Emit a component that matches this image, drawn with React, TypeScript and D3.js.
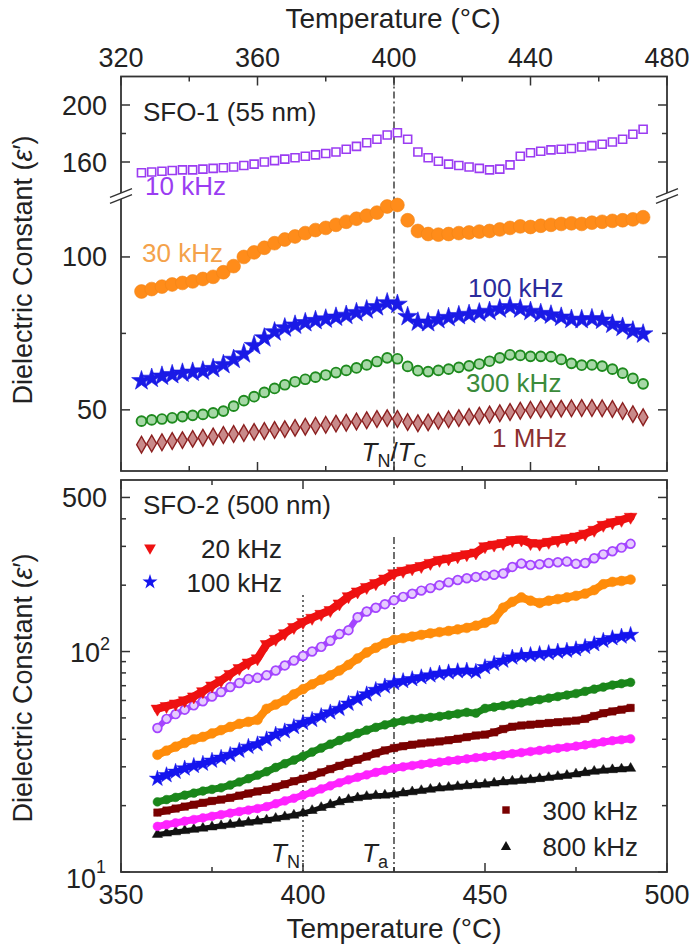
import React from "react";
import * as d3 from "d3";

const FONT = "'Liberation Sans', Arial, Helvetica, sans-serif";

// ---------- Top panel (SFO-1, 55 nm) ----------
const topTemps = [326, 329, 332, 335, 338, 341, 344, 347, 350, 353, 356, 359, 362, 365, 368, 371, 374, 377, 380, 383, 386, 389, 392, 395, 398, 401, 404, 407, 410, 413, 416, 419, 422, 425, 428, 431, 434, 437, 440, 443, 446, 449, 452, 455, 458, 461, 464, 467, 470, 473];
const eps10k = [152.5, 153, 153.5, 154, 154.5, 154.5, 155, 155.5, 156, 156.5, 157.5, 158.5, 160, 161, 162, 163, 164, 165, 166, 167, 169, 171, 173.5, 176, 179, 180.5, 176, 167, 163, 160.5, 158.5, 157.5, 156.5, 155.5, 154.5, 155, 158, 164, 166.5, 167.5, 168.5, 169, 169.5, 170.5, 171.5, 172.5, 174, 176, 179.5, 183];
const eps30k = [88.7, 89.5, 90.3, 91, 91.5, 92, 92.8, 93.5, 95, 97, 100, 101.5, 103, 104.5, 105.7, 106.7, 107.8, 108.8, 109.5, 110.5, 111.5, 112.5, 113.5, 114.5, 116.5, 117, 112, 108.5, 107.5, 107.3, 107.5, 107.8, 108, 108.3, 108.5, 109, 109.5, 110, 109.8, 110.2, 110.5, 110.8, 111, 110.8, 111.2, 111.5, 111.8, 112, 112.3, 113];
const eps100k = [59.5, 60.3, 61, 61.5, 62, 62.3, 62.7, 63.5, 64.8, 66.5, 68.3, 71, 73.5, 75.5, 76.8, 77.7, 78.5, 79.2, 79.7, 80.3, 80.9, 81.8, 82.7, 83.7, 85, 84.5, 80.5, 78.7, 78.5, 79.5, 80.2, 80.8, 81.2, 81.7, 82.2, 83, 83.7, 83, 82.2, 81.5, 81, 80.3, 79.6, 79.5, 79.8, 79.3, 78, 77, 75.8, 74.8];
const eps300k = [46.3, 46.7, 47, 47.4, 47.8, 48.2, 48.5, 49, 49.6, 51.2, 53, 54.3, 55.7, 57, 58.2, 59.2, 60, 60.7, 61.4, 62.2, 62.9, 63.7, 64.7, 65.8, 67, 66.7, 64.2, 62.8, 62.5, 62.9, 63.3, 63.9, 64.4, 65, 65.9, 67, 68, 67.8, 67.5, 67.5, 67.4, 66.5, 65.2, 64.6, 64.7, 64.3, 63.3, 62, 60.3, 58.5];
const eps1M = [38.6, 39, 39.4, 39.8, 40.1, 40.5, 40.9, 41.3, 41.8, 42.1, 42.4, 42.8, 43.1, 43.4, 43.7, 44.1, 44.5, 44.8, 45.1, 45.5, 45.8, 46.2, 46.6, 47, 47.3, 47, 46, 45.6, 45.9, 46.4, 46.9, 47.3, 47.7, 48.1, 48.5, 48.9, 49.3, 49.7, 50, 50.2, 50.3, 50.4, 50.5, 50.6, 50.6, 50.5, 50.3, 49.6, 48.6, 47.6];

const topXTicks = [320, 340, 360, 380, 400, 420, 440, 460, 480];
const topXLabels = [320, 360, 400, 440, 480];
const topUpTicks = [200, 180, 160];
const topUpLabels = [200, 160];
const topLoTicks = [100, 75, 50];
const topLoLabels = [100, 50];

// ---------- Bottom panel (SFO-2, 500 nm) ----------
const botTemps = [360, 362.5, 365, 367.5, 370, 372.5, 375, 377.5, 380, 382.5, 385, 387.5, 390, 392.5, 395, 397.5, 400, 402.5, 405, 407.5, 410, 412.5, 415, 417.5, 420, 422.5, 425, 427.5, 430, 432.5, 435, 437.5, 440, 442.5, 445, 447.5, 450, 452.5, 455, 457.5, 460, 462.5, 465, 467.5, 470, 472.5, 475, 477.5, 480, 482.5, 485, 487.5, 490];
const b20k = [55, 56.5, 58, 60, 62.5, 66, 70, 74, 79, 84, 89, 93, 108, 114, 121, 129, 136, 142, 148, 154, 165, 178, 187, 196, 204, 214, 226, 232, 238, 244, 252, 260, 264, 270, 276, 281, 300, 305, 310, 320, 322, 310, 308, 314, 320, 326, 332, 342, 356, 375, 385, 395, 408];
const b30k = [45, 49.5, 52, 54.5, 57, 59.5, 62.5, 65.5, 69, 72, 75, 76, 78, 82, 86.5, 91, 95.5, 100, 105, 112, 120, 125, 143, 152, 158, 164, 171, 177, 183, 189, 194, 200, 206, 211, 215, 218, 221, 223, 226, 242, 251, 247, 249, 252, 254, 256, 250, 252, 265, 276, 285, 296, 308];
const b50k = [34, 35.5, 37, 38.5, 40, 41, 42.5, 44, 45.5, 47, 48, 49, 55, 57.5, 60, 64, 67.5, 71, 74.5, 78, 82, 87, 93, 99, 104, 109, 113, 115, 117, 119, 121, 122.5, 124, 126, 128, 131, 135, 140, 158, 168, 176, 170, 166, 170, 173, 176, 179, 183, 190, 202, 207, 209, 212];
const b100k = [26.5, 27.5, 28.5, 29.5, 30.3, 31, 32, 33, 34, 35.5, 37, 38, 40, 42, 43.5, 45.5, 47.5, 49, 51, 53, 55, 58, 61, 64, 67, 69.5, 72, 73.5, 75, 76.5, 78, 79.5, 80.5, 81.5, 82, 81, 85, 88, 91, 94, 96, 96.5, 97.5, 98.5, 100, 101, 102.5, 105, 108, 112, 115, 117, 119];
const b200k = [20.8, 21.3, 21.8, 22.3, 22.8, 23.3, 23.7, 24.1, 24.8, 25.6, 26.5, 27.5, 28.5, 29.8, 31, 32.2, 33.5, 35, 36.5, 38, 39.5, 41, 42.5, 44, 45.3, 46.5, 47.6, 48.5, 49.2, 49.8, 50.3, 50.8, 51.5, 52.2, 53, 52.5, 55.2, 56, 56.8, 57.5, 58.5, 59.5, 60.5, 61.5, 62.5, 63.5, 64.5, 66, 67.5, 69, 70.5, 71.5, 72.5];
const b300k = [18.6, 19, 19.4, 19.8, 20.2, 20.6, 21, 21.3, 21.7, 22.2, 22.7, 23.2, 23.6, 24.3, 25, 25.8, 26.5, 27.3, 28.3, 29.3, 30.3, 31.3, 32.3, 33.4, 34.5, 35.6, 36.5, 37.2, 37.8, 38.3, 38.7, 39.1, 39.6, 40.2, 40.9, 41.6, 42, 43, 44.5, 45.6, 46.2, 46.6, 47, 47.4, 47.8, 48.2, 48.6, 49.5, 51, 52.5, 53.5, 54.5, 55.5];
const b500k = [16.1, 16.4, 16.7, 17, 17.3, 17.6, 17.9, 18.2, 18.5, 18.8, 19.1, 19.4, 19.8, 20.4, 21, 21.6, 22.3, 23, 23.8, 24.6, 25.4, 26.2, 26.9, 27.6, 28.3, 28.9, 29.5, 30, 30.4, 30.8, 31.2, 31.5, 31.9, 32.2, 32.6, 33, 33.3, 33.6, 34, 34.4, 34.8, 35.2, 35.6, 36, 36.4, 36.8, 37.2, 37.7, 38.3, 38.9, 39.4, 39.8, 40.2];
const b800k = [14.8, 15, 15.2, 15.4, 15.6, 15.8, 16, 16.2, 16.4, 16.6, 16.8, 17, 17.2, 17.5, 17.8, 18.1, 18.5, 19, 19.6, 20.2, 20.8, 21.3, 21.7, 22, 22.2, 22.3, 22.5, 22.8, 23.1, 23.4, 23.7, 24, 24.2, 24.4, 24.6, 24.8, 25, 25.3, 25.6, 25.8, 26, 26.2, 26.5, 26.8, 27.1, 27.4, 27.8, 28.2, 28.6, 28.9, 29.1, 29.3, 29.5];

const botXTicks = [350, 375, 400, 425, 450, 475, 500];
const botXLabels = [350, 400, 450, 500];
const botYMinor = [20, 30, 40, 50, 60, 70, 80, 90, 200, 300, 400];
const botYMajor = [10, 100, 500];

// ---------- scales ----------
const xTop = d3.scaleLinear().domain([320, 480]).range([121, 667]);
const yUp = d3.scaleLinear().domain([140, 220]).range([190.5, 76.5]);
const yLo = d3.scaleLinear().domain([30, 120]).range([471, 195.8]);
const xBot = d3.scaleLinear().domain([350, 500]).range([121, 667]);
const yBot = d3.scaleLog().domain([10, 600]).range([872, 480]);

const L = 121, R = 667;
const T1 = 76.5, B1 = 471, T2 = 480, B2 = 872;
const AX = "#333";
const TXT = "#222";

const sym = (type: any, size: number) => d3.symbol().type(type).size(size)() as string;

type TopS = { vals: number[]; up?: boolean; path: string; fill: string; stroke: string; sw: number };
const topSeries: TopS[] = [
  { vals: eps1M, path: sym(d3.symbolDiamond, 80), fill: "#c98a8a", stroke: "#8b1f1f", sw: 1.4 },
  { vals: eps300k, path: sym(d3.symbolCircle, 75), fill: "#a6d8a6", stroke: "#1e8a1e", sw: 1.9 },
  { vals: eps100k, path: sym(d3.symbolStar, 120), fill: "#1a1ae6", stroke: "#1a1ae6", sw: 0.6 },
  { vals: eps30k, path: sym(d3.symbolCircle, 150), fill: "#ff8c1a", stroke: "#f28418", sw: 0.6 },
  { vals: eps10k, up: true, path: sym(d3.symbolSquare, 64), fill: "#ffffff", stroke: "#9b3cf2", sw: 1.6 },
];

type BotS = { vals: number[]; color: string; lw: number; path: string; fill: string; stroke: string; sw: number; rot?: number };
const botSeries: BotS[] = [
  { vals: b800k, color: "#111", lw: 5, path: sym(d3.symbolTriangle, 45), fill: "#111", stroke: "#111", sw: 0.5 },
  { vals: b500k, color: "#ff22ff", lw: 7, path: sym(d3.symbolCircle, 60), fill: "#ff22ff", stroke: "#ff22ff", sw: 0.5 },
  { vals: b300k, color: "#7a0000", lw: 7, path: sym(d3.symbolSquare, 55), fill: "#7a0000", stroke: "#7a0000", sw: 0.5 },
  { vals: b200k, color: "#1a861a", lw: 7, path: sym(d3.symbolCircle, 60), fill: "#1a861a", stroke: "#1a861a", sw: 0.5 },
  { vals: b100k, color: "#1414ee", lw: 6, path: sym(d3.symbolStar, 80), fill: "#1414ee", stroke: "#1414ee", sw: 0.5 },
  { vals: b50k, color: "#ff8c0a", lw: 8, path: sym(d3.symbolCircle, 75), fill: "#ff8c0a", stroke: "#ff8c0a", sw: 0.5 },
  { vals: b30k, color: "#a445ff", lw: 6, path: sym(d3.symbolCircle, 60), fill: "#e6ccff", stroke: "#a445ff", sw: 1.7 },
  { vals: b20k, color: "#ee1111", lw: 8, path: sym(d3.symbolTriangle, 70), fill: "#ee1111", stroke: "#ee1111", sw: 0.5, rot: 180 },
];

const Eps = () => (
  <>
    {"Dielectric Constant ("}
    <tspan fontStyle="italic">ε</tspan>
    {"′)"}
  </>
);

export default function App() {
  const botLine = (vals: number[]) =>
    d3.line<number>().x((_, i) => xBot(botTemps[i])).y((v) => yBot(v)).curve(d3.curveLinear)(vals) as string;

  const fs = 27;

  return (
    <svg width={696} height={949} viewBox="0 0 696 949" style={{ display: "block", position: "absolute", left: 0, top: 0, background: "#fff" }} fontFamily={FONT}>
      <rect x={0} y={0} width={696} height={949} fill="#fff" />

      {/* ===== TOP PANEL ===== */}
      <text x={393} y={28} textAnchor="middle" fontSize={28} fill={TXT}>Temperature (°C)</text>
      {topXLabels.map((t) => (
        <text key={"tl" + t} x={xTop(t)} y={67} textAnchor="middle" fontSize={fs} fill={TXT}>{t}</text>
      ))}
      <line x1={xTop(400)} x2={xTop(400)} y1={T1} y2={B1} stroke="#222" strokeWidth={1.3} strokeDasharray="7,3,2,3" />

      {topSeries.map((s, si) => (
        <g key={"ts" + si}>
          {s.vals.map((v, i) => (
            <path key={i} d={s.path} transform={`translate(${xTop(topTemps[i])},${s.up ? yUp(v) : yLo(v)})`} fill={s.fill} stroke={s.stroke} strokeWidth={s.sw} />
          ))}
        </g>
      ))}

      <rect x={L} y={T1} width={R - L} height={B1 - T1} fill="none" stroke={AX} strokeWidth={1.8} />
      {topXTicks.map((t) => {
        const len = topXLabels.includes(t) ? 9 : 5;
        const x = xTop(t);
        return (
          <g key={"tt" + t}>
            <line x1={x} x2={x} y1={T1} y2={T1 + len} stroke={AX} strokeWidth={1.5} />
            <line x1={x} x2={x} y1={B1} y2={B1 - len} stroke={AX} strokeWidth={1.5} />
          </g>
        );
      })}
      {topUpTicks.map((v) => {
        const len = topUpLabels.includes(v) ? 9 : 5;
        const y = yUp(v);
        return (
          <g key={"tu" + v}>
            <line x1={L} x2={L + len} y1={y} y2={y} stroke={AX} strokeWidth={1.5} />
            <line x1={R} x2={R - len} y1={y} y2={y} stroke={AX} strokeWidth={1.5} />
          </g>
        );
      })}
      {topLoTicks.map((v) => {
        const len = topLoLabels.includes(v) ? 9 : 5;
        const y = yLo(v);
        return (
          <g key={"tlo" + v}>
            <line x1={L} x2={L + len} y1={y} y2={y} stroke={AX} strokeWidth={1.5} />
            <line x1={R} x2={R - len} y1={y} y2={y} stroke={AX} strokeWidth={1.5} />
          </g>
        );
      })}
      {topUpLabels.map((v) => (
        <text key={"tul" + v} x={107} y={yUp(v) + 9.5} textAnchor="end" fontSize={fs} fill={TXT}>{v}</text>
      ))}
      {topLoLabels.map((v) => (
        <text key={"tll" + v} x={107} y={yLo(v) + 9.5} textAnchor="end" fontSize={fs} fill={TXT}>{v}</text>
      ))}
      {[L, R].map((x) => (
        <g key={"br" + x}>
          <polygon points={`${x - 10},${197} ${x + 10},${189} ${x + 10},${195} ${x - 10},${203}`} fill="#fff" />
          <line x1={x - 11} y1={197.4} x2={x + 11} y2={188.6} stroke={AX} strokeWidth={1.5} />
          <line x1={x - 11} y1={203.4} x2={x + 11} y2={194.6} stroke={AX} strokeWidth={1.5} />
        </g>
      ))}

      <text x={32} y={270} transform="rotate(-90 32 270)" textAnchor="middle" fontSize={fs} fill={TXT}><Eps /></text>
      <text x={143} y={121} fontSize={26} fill={TXT}>SFO-1 (55 nm)</text>
      <text x={145} y={195} fontSize={26} fill="#9b3cf2">10 kHz</text>
      <text x={142} y={262} fontSize={26} fill="#f4a24a">30 kHz</text>
      <text x={468} y={297} fontSize={26} fill="#2b2b9c">100 kHz</text>
      <text x={466} y={392} fontSize={26} fill="#3b8b3b">300 kHz</text>
      <text x={492} y={447} fontSize={26} fill="#8b3030">1 MHz</text>
      <text x={xTop(400)} y={461} textAnchor="middle" fontSize={26} fill={TXT}>
        <tspan fontStyle="italic">T</tspan>
        <tspan fontSize={18} dy={6}>N</tspan>
        <tspan dy={-6}>/</tspan>
        <tspan fontStyle="italic">T</tspan>
        <tspan fontSize={18} dy={6}>C</tspan>
      </text>

      {/* ===== BOTTOM PANEL ===== */}
      <line x1={xBot(400)} x2={xBot(400)} y1={595} y2={B2} stroke="#222" strokeWidth={1.3} strokeDasharray="2,3" />
      <line x1={xBot(425)} x2={xBot(425)} y1={537} y2={B2} stroke="#222" strokeWidth={1.3} strokeDasharray="7,3,2,3" />

      {botSeries.map((s, si) => (
        <g key={"bs" + si}>
          <path d={botLine(s.vals)} fill="none" stroke={s.color} strokeWidth={s.lw} strokeLinejoin="round" strokeLinecap="round" />
          {s.vals.map((v, i) => (
            <path key={i} d={s.path} transform={`translate(${xBot(botTemps[i])},${yBot(v)}) rotate(${s.rot || 0})`} fill={s.fill} stroke={s.stroke} strokeWidth={s.sw} />
          ))}
        </g>
      ))}

      <rect x={L} y={T2} width={R - L} height={B2 - T2} fill="none" stroke={AX} strokeWidth={1.8} />
      {botXTicks.map((t) => {
        const len = botXLabels.includes(t) ? 9 : 5;
        const x = xBot(t);
        return (
          <g key={"bt" + t}>
            <line x1={x} x2={x} y1={T2} y2={T2 + len} stroke={AX} strokeWidth={1.5} />
            <line x1={x} x2={x} y1={B2} y2={B2 - len} stroke={AX} strokeWidth={1.5} />
          </g>
        );
      })}
      {botYMajor.map((v) => (
        <g key={"bym" + v}>
          <line x1={L} x2={L + 9} y1={yBot(v)} y2={yBot(v)} stroke={AX} strokeWidth={1.5} />
          <line x1={R} x2={R - 9} y1={yBot(v)} y2={yBot(v)} stroke={AX} strokeWidth={1.5} />
        </g>
      ))}
      {botYMinor.map((v) => (
        <g key={"byn" + v}>
          <line x1={L} x2={L + 5} y1={yBot(v)} y2={yBot(v)} stroke={AX} strokeWidth={1.5} />
          <line x1={R} x2={R - 5} y1={yBot(v)} y2={yBot(v)} stroke={AX} strokeWidth={1.5} />
        </g>
      ))}
      {botXLabels.map((t) => (
        <text key={"bxl" + t} x={xBot(t)} y={904} textAnchor="middle" fontSize={fs} fill={TXT}>{t}</text>
      ))}
      <text x={107} y={yBot(500) + 9.5} textAnchor="end" fontSize={fs} fill={TXT}>500</text>
      <text x={110} y={yBot(100) + 10} textAnchor="end" fontSize={fs} fill={TXT}>
        10<tspan fontSize={18} dy={-12}>2</tspan>
      </text>
      <text x={66} y={888} fontSize={fs} fill={TXT}>
        10<tspan fontSize={18} dy={-15}>1</tspan>
      </text>
      <text x={394} y={938} textAnchor="middle" fontSize={28} fill={TXT}>Temperature (°C)</text>
      <text x={32} y={688} transform="rotate(-90 32 688)" textAnchor="middle" fontSize={fs} fill={TXT}><Eps /></text>

      <text x={143} y={514} fontSize={26} fill={TXT}>SFO-2 (500 nm)</text>
      <path d={sym(d3.symbolTriangle, 60)} transform="translate(150,548) rotate(180)" fill="#ee1111" />
      <text x={282} y={558} textAnchor="end" fontSize={26} fill={TXT}>20 kHz</text>
      <path d={sym(d3.symbolStar, 70)} transform="translate(150,582)" fill="#1414ee" />
      <text x={282} y={592} textAnchor="end" fontSize={26} fill={TXT}>100 kHz</text>
      <path d={sym(d3.symbolSquare, 55)} transform="translate(506,810)" fill="#7a0000" />
      <text x={638} y={820} textAnchor="end" fontSize={26} fill={TXT}>300 kHz</text>
      <path d={sym(d3.symbolTriangle, 45)} transform="translate(506,847)" fill="#111" />
      <text x={638} y={856} textAnchor="end" fontSize={26} fill={TXT}>800 kHz</text>

      <text x={300} y={862} textAnchor="end" fontSize={26} fill={TXT}>
        <tspan fontStyle="italic">T</tspan>
        <tspan fontSize={18} dy={6}>N</tspan>
      </text>
      <text x={362} y={862} fontSize={26} fill={TXT}>
        <tspan fontStyle="italic">T</tspan>
        <tspan fontSize={18} dy={6}>a</tspan>
      </text>
    </svg>
  );
}
